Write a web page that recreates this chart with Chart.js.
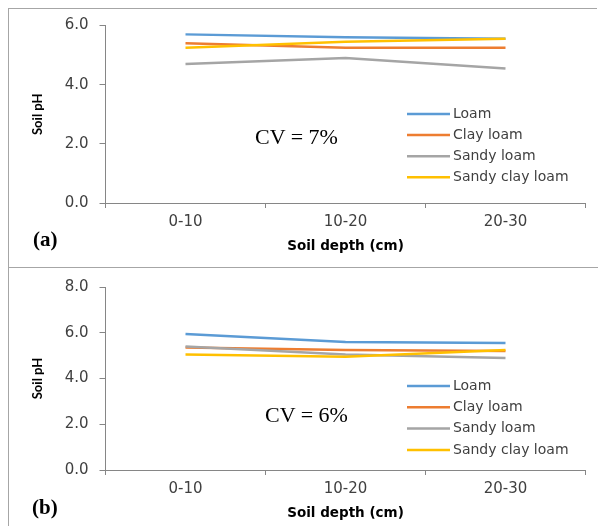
<!DOCTYPE html>
<html><head><meta charset="utf-8">
<script src="https://cdn.jsdelivr.net/npm/chart.js@4.4.0/dist/chart.umd.min.js"></script>
<style>
html,body{margin:0;padding:0;background:#fff;}
body{width:598px;height:526px;position:relative;overflow:hidden;}
.cv{position:absolute;left:0;width:598px;}
.ln{position:absolute;background:#a6a6a6;}
.note{position:absolute;font-family:"Liberation Serif","Times New Roman",serif;white-space:nowrap;color:#000;}
</style></head><body>
<div class="cv" style="top:0;height:267px"><canvas id="cA"></canvas></div>
<div class="cv" style="top:267px;height:259px"><canvas id="cB"></canvas></div>
<div class="ln" style="left:8px;top:8px;width:1px;height:518px"></div>
<div class="ln" style="left:8px;top:8px;width:589px;height:1px"></div>
<div class="ln" style="left:8px;top:267px;width:590px;height:1px"></div>
<div class="note" style="left:255px;top:126px;font-size:22px;line-height:22px">CV = 7%</div>
<div class="note" style="left:265px;top:404px;font-size:22px;line-height:22px">CV = 6%</div>
<div class="note" style="left:33px;top:229px;font-size:21px;line-height:21px;font-weight:bold">(a)</div>
<div class="note" style="left:32px;top:497px;font-size:21px;line-height:21px;font-weight:bold">(b)</div>
<script>
// ---- data ----
const depthLabels = ['0-10', '10-20', '20-30'];
const seriesNames = ['Loam', 'Clay loam', 'Sandy loam', 'Sandy clay loam'];
const seriesColors = ['#5B9BD5', '#ED7D31', '#A5A5A5', '#FFC000'];
// panel (a)
const loamA = [5.7, 5.6, 5.55];
const clayLoamA = [5.4, 5.25, 5.25];
const sandyLoamA = [4.7, 4.9, 4.55];
const sandyClayLoamA = [5.25, 5.45, 5.55];
const yTicksA = [0, 2, 4, 6];
// panel (b)
const loamB = [5.95, 5.6, 5.55];
const clayLoamB = [5.35, 5.25, 5.2];
const sandyLoamB = [5.4, 5.05, 4.9];
const sandyClayLoamB = [5.05, 4.95, 5.25];
const yTicksB = [0, 2, 4, 6, 8];

const AXIS = '#868686';
const TXT = '#404040';

const insideLegend = {
  id: 'insideLegend',
  afterDraw(chart, args, o) {
    const ctx = chart.ctx;
    ctx.save();
    chart.data.datasets.forEach((ds, i) => {
      const y = o.y0 + i * o.step;
      ctx.strokeStyle = ds.borderColor;
      ctx.lineWidth = ds.borderWidth;
      ctx.beginPath(); ctx.moveTo(o.x0, y); ctx.lineTo(o.x1, y); ctx.stroke();
      ctx.fillStyle = TXT;
      ctx.font = '14px "DejaVu Sans"';
      ctx.textAlign = 'left';
      ctx.textBaseline = 'middle';
      ctx.fillText(ds.label, o.tx, y);
    });
    ctx.restore();
  }
};

function makeChart(id, series, yTicks, cfg) {
  const datasets = series.map((d, i) => ({
    label: seriesNames[i],
    data: d,
    borderColor: seriesColors[i],
    backgroundColor: seriesColors[i],
    borderWidth: 2.5,
    pointRadius: 0,
    tension: 0,
    fill: false,
    order: series.length - i
  }));
  return new Chart(document.getElementById(id), {
    type: 'line',
    data: { labels: depthLabels, datasets },
    plugins: [insideLegend],
    options: {
      responsive: true,
      maintainAspectRatio: false,
      animation: false,
      layout: { padding: { top: cfg.padTop, right: 12.5, left: 0, bottom: 0 } },
      plugins: {
        legend: { display: false },
        tooltip: { enabled: false },
        insideLegend: { x0: 407, x1: 450, tx: 453, y0: cfg.legY0, step: cfg.legStep }
      },
      scales: {
        x: {
          type: 'category',
          offset: true,
          afterFit(s) { s.height = cfg.xHeight; },
          grid: { offset: true, drawOnChartArea: false, drawTicks: true, tickLength: 5, color: AXIS },
          border: { display: true, color: AXIS },
          ticks: { color: TXT, font: { family: 'DejaVu Sans', size: 15 }, padding: 5, maxRotation: 0 },
          title: { display: true, text: 'Soil depth (cm)', color: '#000',
                   font: { family: 'DejaVu Sans', size: 13.5, weight: 'bold' },
                   padding: { top: 0, bottom: cfg.xTitlePad } }
        },
        y: {
          min: yTicks[0],
          max: yTicks[yTicks.length - 1],
          afterFit(s) { s.width = 105.5; },
          afterBuildTicks(s) { s.ticks = yTicks.map(v => ({ value: v })); },
          grid: { drawOnChartArea: false, drawTicks: true, tickLength: 6, color: AXIS },
          border: { display: true, color: AXIS },
          ticks: { color: TXT, font: { family: 'DejaVu Sans', size: 15 }, padding: 11,
                   callback: v => Number(v).toFixed(1) },
          title: { display: true, text: 'Soil pH', color: '#000',
                   font: { family: 'Lato', size: 13, weight: 'bold' },
                   padding: { top: 30, bottom: 0 } }
        }
      }
    }
  });
}

makeChart('cA', [loamA, clayLoamA, sandyLoamA, sandyClayLoamA], yTicksA,
  { padTop: 25.5, xHeight: 64, xTitlePad: 12.6, legY0: 114, legStep: 21.1 });
makeChart('cB', [loamB, clayLoamB, sandyLoamB, sandyClayLoamB], yTicksB,
  { padTop: 18, xHeight: 56, xTitlePad: 4.6, legY0: 119, legStep: 21.3 });
</script>
</body></html>
